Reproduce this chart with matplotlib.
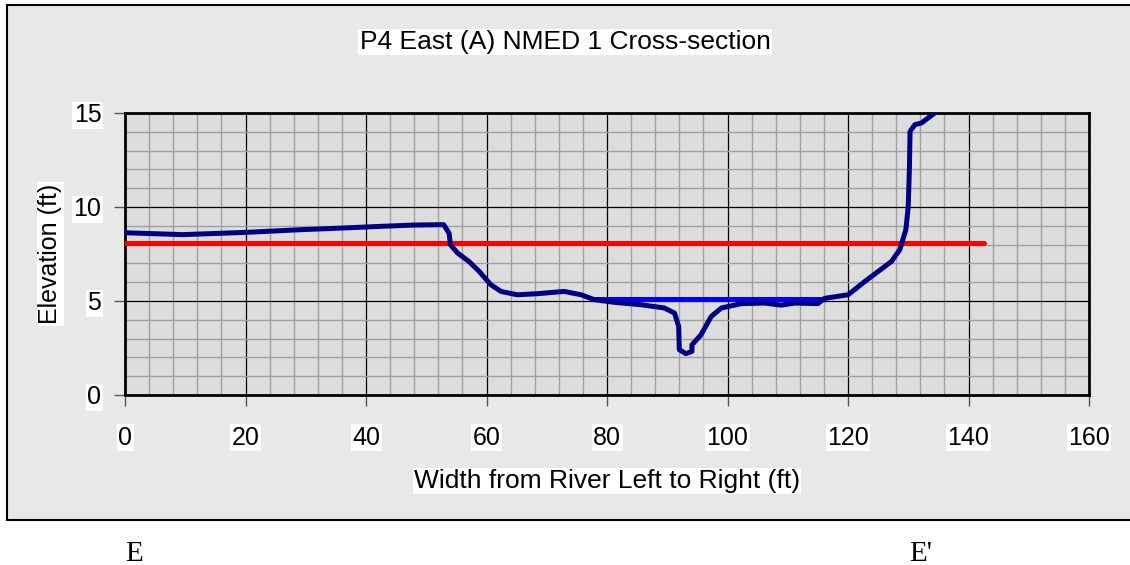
import matplotlib
matplotlib.use("Agg")
import matplotlib.pyplot as plt
from matplotlib.patches import Rectangle
from matplotlib.ticker import MultipleLocator

# Ground profile (width ft, elevation ft)
ground_x = [0, 9.6, 20, 29, 36, 42.4, 48, 52.9, 53.8, 54.0, 55.2, 57.1, 58.8, 60.7, 62.4,
            65.1, 68.5, 72.9, 75.7, 77.9, 81.2, 85.7, 89.5, 91.2, 91.9, 92.0, 93.1, 94.1,
            94.1, 95.6, 97.3, 99.0, 102.3, 106.2, 108.9, 111.2, 115.0, 116.1, 120.0, 122.8,
            125.0, 127.2, 128.6, 129.6, 130.0, 130.2, 130.3, 131.1, 132.2, 134.4]
ground_y = [8.63, 8.53, 8.65, 8.79, 8.88, 8.97, 9.04, 9.06, 8.6, 8.0, 7.55, 7.1, 6.57, 5.87,
            5.51, 5.33, 5.39, 5.51, 5.33, 5.07, 4.93, 4.8, 4.63, 4.36, 3.65, 2.41, 2.2, 2.32,
            2.67, 3.2, 4.18, 4.63, 4.86, 4.89, 4.78, 4.89, 4.86, 5.14, 5.33, 6.04,
            6.57, 7.1, 7.73, 8.79, 10.03, 12.16, 14.02, 14.38, 14.47, 15.0]

# Water surface and bankfull line
water_x = [77.9, 115.9]
water_y = [5.12, 5.12]
bankfull_x = [0, 142.5]
bankfull_y = [8.1, 8.1]

plt.rcParams['font.family'] = ['Liberation Sans', 'DejaVu Sans']
fig = plt.figure(figsize=(11.3, 5.65), dpi=100)
fig.patch.set_facecolor('white')

# grey chart frame
frame = Rectangle((7 / 1130, 1 - 520 / 565), 1.1, 515 / 565, transform=fig.transFigure,
                  facecolor='#e8e8e8', edgecolor='black', linewidth=1.5, zorder=-10)
fig.patches.append(frame)

ax = fig.add_axes([125 / 1130, 1 - 395 / 565, 964 / 1130, 282 / 565])
ax.set_facecolor('#dddddd')

ax.plot(ground_x, ground_y, color='#000080', linewidth=3.6, solid_capstyle='round',
        solid_joinstyle='round', zorder=4)
ax.plot(water_x, water_y, color='#0000ff', linewidth=3.6, solid_capstyle='round', zorder=3)
ax.plot(bankfull_x, bankfull_y, color='#ff0000', linewidth=3.6, solid_capstyle='round', zorder=3)

ax.set_xlim(0, 160)
ax.set_ylim(0, 15)
ax.xaxis.set_major_locator(MultipleLocator(20))
ax.xaxis.set_minor_locator(MultipleLocator(4))
ax.yaxis.set_major_locator(MultipleLocator(5))
ax.yaxis.set_minor_locator(MultipleLocator(1))
ax.grid(True, which='minor', color='#a0a0a0', linewidth=1.0)
ax.grid(True, which='major', color='black', linewidth=0.9)
ax.set_axisbelow(True)

for s in ax.spines.values():
    s.set_linewidth(2)
    s.set_color('black')

ax.tick_params(which='major', direction='out', length=8, width=1, color='#555555',
               labelsize=18, pad=14)
ax.tick_params(which='minor', length=0)
ax.tick_params(axis='y', pad=9)

box = dict(facecolor='white', edgecolor='none', pad=1)
for lbl in ax.get_xticklabels() + ax.get_yticklabels():
    lbl.set_bbox(box)

ax.set_xlabel('Width from River Left to Right (ft)', fontsize=19, labelpad=14, bbox=box)
ax.set_ylabel('Elevation (ft)', fontsize=18, labelpad=8, bbox=box)

fig.text(565 / 1130, 1 - 42 / 565, 'P4 East (A) NMED 1 Cross-section', fontsize=19,
         ha='center', va='center', bbox=box)

fig.text(125 / 1130, 1 - 561 / 565, 'E', fontsize=21, family='Liberation Serif',
         ha='left', va='baseline')
fig.text(909 / 1130, 1 - 561 / 565, "E'", fontsize=21, family='Liberation Serif',
         ha='left', va='baseline')

fig.savefig('out.png', dpi=100)
